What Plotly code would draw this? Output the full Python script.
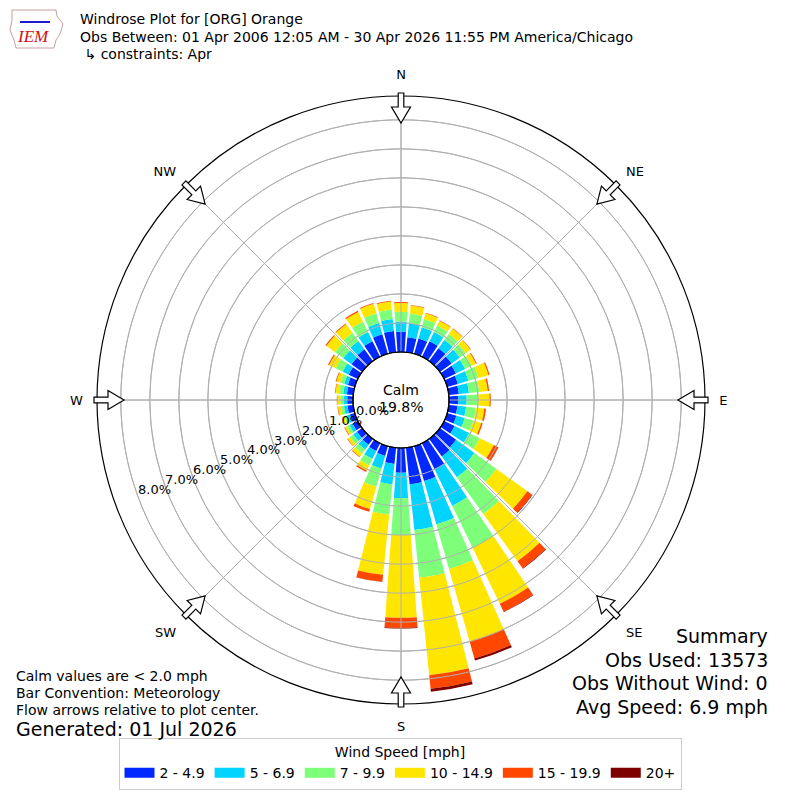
import numpy as np
import plotly.graph_objects as go

# wind directions (deg, meteorological), one bar every 10 degrees
directions = list(range(0, 360, 10))

# cumulative frequency (%) reached by each speed class
cum_2_5 = [0.70, 0.52, 0.55, 0.60, 0.55, 0.50, 0.45, 0.38, 0.35, 0.32, 0.30, 0.33,
           0.40, 0.69, 0.75, 1.00, 1.25, 1.27, 0.85, 0.56, 0.35, 0.30, 0.25, 0.22,
           0.20, 0.18, 0.20, 0.20, 0.22, 0.25, 0.35, 0.45, 0.50, 0.60, 0.70, 0.74]
cum_5_7 = [1.05, 1.00, 0.95, 0.95, 0.90, 0.85, 0.80, 0.76, 0.70, 0.61, 0.60, 0.63,
           0.96, 1.47, 1.63, 2.40, 2.80, 2.85, 1.73, 1.27, 0.80, 0.60, 0.45, 0.38,
           0.32, 0.28, 0.32, 0.32, 0.35, 0.38, 0.58, 0.80, 0.85, 0.95, 1.10, 1.15]
cum_7_10 = [1.39, 1.33, 1.25, 1.20, 1.15, 1.10, 1.05, 1.12, 1.06, 1.01, 0.94, 0.94,
            1.36, 2.40, 3.19, 4.00, 4.40, 4.50, 3.00, 2.32, 1.45, 0.85, 0.62, 0.52,
            0.42, 0.38, 0.43, 0.44, 0.50, 0.52, 0.85, 1.15, 1.20, 1.35, 1.45, 1.48]
cum_10_15 = [1.69, 1.62, 1.45, 1.38, 1.38, 1.30, 1.22, 1.48, 1.35, 1.40, 1.23, 1.22,
             1.90, 3.72, 5.20, 6.15, 7.00, 7.88, 5.85, 4.40, 2.25, 1.05, 0.76, 0.62,
             0.50, 0.45, 0.53, 0.54, 0.62, 0.66, 1.10, 1.52, 1.57, 1.72, 1.79, 1.76]
cum_15_20 = [1.72, 1.64, 1.47, 1.40, 1.40, 1.32, 1.25, 1.52, 1.40, 1.44, 1.29, 1.27,
             2.07, 3.92, 5.50, 6.45, 7.60, 8.35, 6.20, 4.64, 2.35, 1.10, 0.78, 0.64,
             0.52, 0.46, 0.55, 0.56, 0.64, 0.69, 1.14, 1.56, 1.60, 1.76, 1.82, 1.78]
cum_20p = [1.72, 1.64, 1.47, 1.40, 1.40, 1.32, 1.25, 1.52, 1.40, 1.44, 1.29, 1.27,
           2.08, 3.94, 5.52, 6.47, 7.68, 8.45, 6.22, 4.65, 2.35, 1.10, 0.78, 0.64,
           0.52, 0.46, 0.55, 0.56, 0.64, 0.69, 1.14, 1.56, 1.60, 1.76, 1.82, 1.78]

speed_bins = ['2 - 4.9', '5 - 6.9', '7 - 9.9', '10 - 14.9', '15 - 19.9', '20+']
bin_colors = ['#0028ff', '#00d4ff', '#7dff7a', '#ffe600', '#ff4700', '#7f0000']

radial_ticks = [0, 1, 2, 3, 4, 5, 6, 7, 8]
radial_labels = ['0.0%', '1.0%', '2.0%', '3.0%', '4.0%', '5.0%', '6.0%', '7.0%', '8.0%']
compass_angles = [0, 45, 90, 135, 180, 225, 270, 315]
compass_labels = ['N', 'NE', 'E', 'SE', 'S', 'SW', 'W', 'NW']

calm_pct = 19.8
summary = ['Summary', 'Obs Used: 13573', 'Obs Without Wind: 0', 'Avg Speed: 6.9 mph']
notes = ['Calm values are < 2.0 mph', 'Bar Convention: Meteorology',
         'Flow arrows relative to plot center.']
generated = 'Generated: 01 Jul 2026'

# stacked pieces = difference between successive cumulative levels
cum = np.array([cum_2_5, cum_5_7, cum_7_10, cum_10_15, cum_15_20, cum_20p])
pieces = np.diff(np.vstack([np.zeros(len(directions)), cum]), axis=0)

OFF = 8                       # page body margin of the browser
W = H = 800 - OFF
cx, cy, R = 401, 400, 304     # rose centre / outer radius (screen pixels)
hole_px = 48
rmax = 8.82
px_per_pct = (R - hole_px) / rmax
FONT = 'DejaVu Sans'
GRID = '#b0b0b0'

fig = go.Figure()
for i, name in enumerate(speed_bins):
    fig.add_trace(go.Barpolar(r=pieces[i], theta=directions, width=8.3,
                              marker=dict(color=bin_colors[i], line=dict(width=0)),
                              name=name, showlegend=False, hoverinfo='skip'))

# grid drawn over the bars, like matplotlib does
ring_theta = np.arange(0, 361, 2)
for v in radial_ticks[1:]:
    fig.add_trace(go.Scatterpolar(r=[v] * len(ring_theta), theta=ring_theta, mode='lines',
                                  line=dict(color=GRID, width=1), showlegend=False, hoverinfo='skip'))
for ang in compass_angles:
    fig.add_trace(go.Scatterpolar(r=[0, rmax], theta=[ang, ang], mode='lines',
                                  line=dict(color=GRID, width=1), showlegend=False, hoverinfo='skip'))

# legend proxies (wide colour patches like the original)
for i, name in enumerate(speed_bins):
    fig.add_trace(go.Scatterpolar(r=[None], theta=[None], mode='lines', name=name,
                                  line=dict(color=bin_colors[i], width=10)))


def px2paper(x, y):
    return (x - OFF) / W, 1 - (y - OFF) / H


# flow arrows on the rim, pointing at the centre
shapes = []
for ang in compass_angles:
    a = np.deg2rad(ang)
    ux, uy = np.sin(a), -np.cos(a)      # outward unit vector (screen coords)
    vx, vy = -uy, ux
    outline = [(307, 2.8), (293, 2.8), (293, 9.5), (277, 0), (293, -9.5), (293, -2.8), (307, -2.8)]
    pts = []
    for rr, ww in outline:
        X, Y = px2paper(cx + rr * ux + ww * vx, cy + rr * uy + ww * vy)
        pts.append(f'{X:.5f},{Y:.5f}')
    shapes.append(dict(type='path', xref='paper', yref='paper',
                       path='M' + ' L'.join(pts) + ' Z',
                       fillcolor='white', line=dict(color='black', width=1.2)))

# black ring around the calm hole
x0, y0 = px2paper(cx - hole_px, cy - hole_px)
x1, y1 = px2paper(cx + hole_px, cy + hole_px)
shapes.append(dict(type='circle', xref='paper', yref='paper', x0=x0, y0=y1, x1=x1, y1=y0,
                   line=dict(color='black', width=1.2)))

# rough IEM logo outline
logo = [(12, 10), (56, 10), (57, 16), (63, 24), (60, 34), (56, 40), (54, 48), (16, 48), (14, 40), (10, 30), (12, 20)]
shapes.append(dict(type='path', xref='paper', yref='paper',
                   path='M' + ' L'.join(f'{px2paper(a, b)[0]:.5f},{px2paper(a, b)[1]:.5f}' for a, b in logo) + ' Z',
                   line=dict(color='#c8a0a0', width=1)))
bx0, by0 = px2paper(20, 22)
bx1, by1 = px2paper(50, 22)
shapes.append(dict(type='line', xref='paper', yref='paper', x0=bx0, y0=by0, x1=bx1, y1=by1,
                   line=dict(color='#1a1ad0', width=2)))

annotations = []


def txt(x, y, s, size=13, anchor='left', **kw):
    X, Y = px2paper(x, y)
    annotations.append(dict(x=X, y=Y, xref='paper', yref='paper', text=s, showarrow=False,
                            xanchor=anchor, yanchor='middle', borderpad=0,
                            font=dict(family=kw.get('family', FONT), size=size,
                                      color=kw.get('color', 'black'))))


txt(79, 19, 'Windrose Plot for [ORG] Orange', 14)
txt(79, 37, 'Obs Between: 01 Apr 2006 12:05 AM - 30 Apr 2026 11:55 PM America/Chicago', 14)
txt(79, 54, ' ↳ constraints: Apr', 14)
txt(16, 36, '<i>IEM</i>', 17, color='#d01010', family='Liberation Serif')

txt(cx, 390, 'Calm', 14, 'center')
txt(cx, 407, f'{calm_pct:.1f}%', 14, 'center')

# radial tick labels laid out along the 20-degrees-below-west direction
lab_dir = np.deg2rad(200)
for v, s in zip(radial_ticks, radial_labels):
    d = hole_px + v * px_per_pct - 18
    txt(cx + d * np.cos(lab_dir), cy - d * np.sin(lab_dir), s, 13, 'center')

for k, s in enumerate(notes):
    txt(15, 676 + 17 * k, s, 14)
txt(15, 729, generated, 19)
for k, s in enumerate(summary):
    txt(769, 636 + 23.5 * k, s, 19, 'right')

dx0, dy0 = px2paper(cx - R, cy + R)
dx1, dy1 = px2paper(cx + R, cy - R)
lx, ly = px2paper(400, 790)

fig.update_layout(
    width=W, height=H, margin=dict(l=0, r=0, t=0, b=0),
    paper_bgcolor='white', font=dict(family=FONT, size=13, color='black'),
    polar=dict(
        domain=dict(x=[dx0, dx1], y=[dy0, dy1]),
        bgcolor='white', hole=hole_px / R, barmode='stack',
        radialaxis=dict(range=[0, rmax], tickvals=radial_ticks, showticklabels=False,
                        showline=False, ticks='', gridcolor=GRID, gridwidth=1),
        angularaxis=dict(direction='clockwise', rotation=90, tickvals=compass_angles,
                         ticktext=compass_labels, showline=True, linecolor='black', linewidth=1.2,
                         gridcolor=GRID, gridwidth=1, ticks='outside', ticklen=11,
                         tickcolor='rgba(0,0,0,0)', tickfont=dict(size=13, color='black')),
    ),
    legend=dict(orientation='h', x=lx, xanchor='center', y=ly, yanchor='bottom',
                title=dict(text='Wind Speed [mph]', side='top center', font=dict(size=14)),
                bordercolor='#cccccc', borderwidth=1, font=dict(size=14)),
    shapes=shapes, annotations=annotations,
)

fig.write_html('out.html')
